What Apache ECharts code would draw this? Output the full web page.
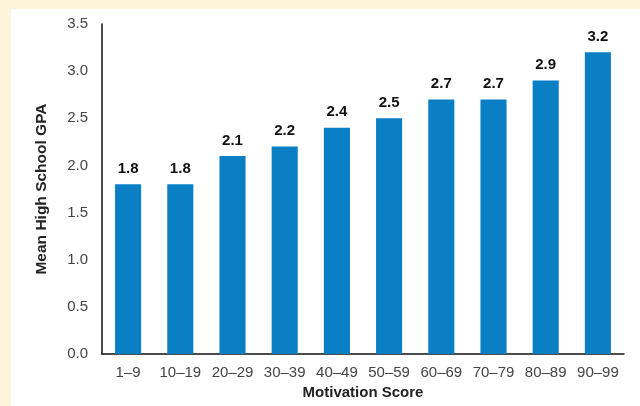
<!DOCTYPE html>
<html><head><meta charset="utf-8">
<script src="https://cdn.jsdelivr.net/npm/echarts@6/dist/echarts.min.js"></script>
<style>html,body{margin:0;padding:0;background:#fcf5dc;}#c{position:absolute;left:11px;top:9px;width:629px;height:397px;background:#fff;}</style>
</head><body><div id="c"></div>
<script>
const categories = ['1\u20139','10\u201319','20\u201329','30\u201339','40\u201349','50\u201359','60\u201369','70\u201379','80\u201389','90\u201399'];
const gpaValues = [1.8, 1.8, 2.1, 2.2, 2.4, 2.5, 2.7, 2.7, 2.9, 3.2];
const yTicks = [0, 0.5, 1.0, 1.5, 2.0, 2.5, 3.0, 3.5];
const chart = echarts.init(document.getElementById('c'), null, {renderer:'canvas'});
const font = '"Liberation Sans", Arial, Helvetica, sans-serif';
chart.setOption({
  animation:false,
  backgroundColor:'#fff',
  grid:{left:91, right:16, top:15, bottom:52},
  xAxis:{type:'category', data:categories,
    name:'Motivation Score', nameLocation:'middle', nameGap:29,
    nameTextStyle:{fontFamily:font, fontWeight:'bold', fontSize:15, color:'#222'},
    axisLine:{lineStyle:{color:'#111', width:1.5}}, axisTick:{show:false},
    axisLabel:{interval:0, hideOverlap:false, fontFamily:font, fontSize:15, color:'#444', margin:11}},
  yAxis:{type:'value', min:0, max:3.5, interval:0.5,
    name:'Mean High School GPA', nameLocation:'middle', nameGap:52,
    nameTextStyle:{fontFamily:font, fontWeight:'bold', fontSize:15.5, color:'#222'},
    axisLine:{show:true, lineStyle:{color:'#111', width:1.5}}, axisTick:{show:false},
    splitLine:{show:false},
    axisLabel:{fontFamily:font, fontSize:15, color:'#444', margin:14,
      formatter:function(v){return yTicks.indexOf(v)>=0 ? v.toFixed(1) : '';}}},
  series:[{type:'bar', data:gpaValues, barWidth:'50%',
    itemStyle:{color:'#0b7fc3'},
    label:{show:true, position:'top', distance:8, fontFamily:font, fontWeight:'bold', fontSize:15, color:'#111',
      formatter:function(p){return p.value.toFixed(1);}}}]
});
</script></body></html>
